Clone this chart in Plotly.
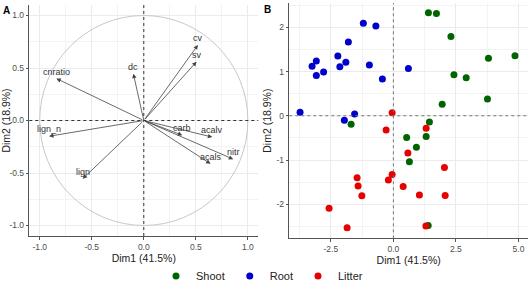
import plotly.graph_objects as go

# ---- Panel A: variable loadings ----
var_names = ["cv", "sv", "dc", "cnratio", "lign_n", "carb", "acalv", "nitr", "acals", "lign"]
var_dim1 = [0.52, 0.507, -0.10, -0.84, -0.91, 0.37, 0.658, 0.859, 0.641, -0.587]
var_dim2 = [0.72, 0.56, 0.445, 0.40, -0.15, -0.14, -0.158, -0.368, -0.412, -0.555]

# ---- Panel B: individuals ----
groups = ["Shoot", "Root", "Litter"]
group_colors = ["#006400", "#0000CD", "#E60000"]
shoot_dim1 = [1.40, 1.72, 2.30, 3.80, 4.86, 2.42, 2.91, 3.76, 1.95, 1.44, -1.69, 0.53, 1.31, 0.92, 0.64, 1.39]
shoot_dim2 = [2.33, 2.31, 1.79, 1.30, 1.36, 0.93, 0.86, 0.38, 0.26, -0.14, -0.19, -0.49, -0.47, -0.71, -1.04, -2.48]
root_dim1 = [-3.73, -3.25, -3.08, -3.08, -2.79, -2.22, -2.14, -1.90, -1.80, -1.20, -0.70, -0.96, -0.44, 0.60, -1.96, -1.55]
root_dim2 = [0.08, 1.12, 1.24, 0.91, 0.99, 1.35, 1.11, 1.21, 1.67, 2.09, 2.03, 1.15, 0.83, 1.07, -0.10, 0.04]
litter_dim1 = [-0.05, -0.29, 1.31, 0.58, 2.04, -1.45, -0.05, -0.20, -1.41, 0.39, -1.26, 1.04, 2.07, -2.57, -1.85, 1.30]
litter_dim2 = [0.07, -0.32, -0.28, -0.84, -1.17, -1.40, -1.33, -1.45, -1.59, -1.60, -1.81, -1.79, -1.80, -2.09, -2.53, -2.49]

x_title = "Dim1 (41.5%)"
y_title = "Dim2 (18.9%)"

W, H = 529, 283
FONT = "Liberation Sans, Arial, sans-serif"

def px_x(p):
    return p / W

def px_y(p):
    return 1 - p / H

fig = go.Figure()

# Panel B points
for name, col, xs, ys in zip(groups, group_colors,
                             [shoot_dim1, root_dim1, litter_dim1],
                             [shoot_dim2, root_dim2, litter_dim2]):
    fig.add_trace(go.Scatter(x=xs, y=ys, mode="markers", name=name,
                             marker=dict(color=col, size=7, line=dict(width=0)),
                             xaxis="x2", yaxis="y2"))

# invisible trace to anchor axis A
fig.add_trace(go.Scatter(x=var_dim1, y=var_dim2, mode="markers",
                         marker=dict(size=1, opacity=0), showlegend=False,
                         hoverinfo="skip", xaxis="x", yaxis="y"))

annotations = []
for n, x, y in zip(var_names, var_dim1, var_dim2):
    annotations.append(dict(x=x, y=y, ax=0, ay=0, xref="x", yref="y", axref="x", ayref="y",
                            text="", showarrow=True, arrowhead=2, arrowsize=1.1,
                            arrowwidth=0.8, arrowcolor="#444444"))
for n, x, y in zip(var_names, var_dim1, var_dim2):
    annotations.append(dict(x=x, y=y, xref="x", yref="y", text=n, showarrow=False,
                            yshift=7, font=dict(family=FONT, size=9, color="#333333")))

annotations.append(dict(x=px_x(1), y=px_y(3), xref="paper", yref="paper", text="<b>A</b>",
                        showarrow=False, xanchor="left", yanchor="top",
                        font=dict(family=FONT, size=10, color="black")))
annotations.append(dict(x=px_x(262), y=px_y(2), xref="paper", yref="paper", text="<b>B</b>",
                        showarrow=False, xanchor="left", yanchor="top",
                        font=dict(family=FONT, size=10, color="black")))

shapes = [
    dict(type="circle", xref="x", yref="y", x0=-1, y0=-1, x1=1, y1=1,
         line=dict(color="#c8c8c8", width=1)),
    dict(type="line", xref="x", yref="y domain", x0=0, x1=0, y0=0, y1=1,
         line=dict(color="#333333", width=1, dash="3px,3px")),
    dict(type="line", xref="x domain", yref="y", x0=0, x1=1, y0=0, y1=0,
         line=dict(color="#333333", width=1, dash="3px,3px")),
    dict(type="line", xref="x2", yref="y2 domain", x0=0, x1=0, y0=0, y1=1,
         line=dict(color="#777777", width=1, dash="3px,3px")),
    dict(type="line", xref="x2 domain", yref="y2", x0=0, x1=1, y0=0, y1=0,
         line=dict(color="#777777", width=1, dash="3px,3px")),
]

axis_common = dict(showline=True, linecolor="#555555", linewidth=1, mirror=False,
                   ticks="outside", ticklen=2.5, tickcolor="#555555", tickwidth=1,
                   showgrid=True, gridcolor="#ebebeb", gridwidth=1, zeroline=False,
                   automargin=False,
                   tickfont=dict(family=FONT, size=8.5, color="#4d4d4d"),
                   title_font=dict(family=FONT, size=10.5, color="#222222"))

fig.update_layout(
    width=W, height=H, margin=dict(l=0, r=0, t=0, b=0, autoexpand=False),
    paper_bgcolor="white", plot_bgcolor="white",
    font=dict(family=FONT),
    xaxis=dict(axis_common, domain=[px_x(29.3), px_x(258.3)], range=[-1.1, 1.1],
               tickvals=[-1.0, -0.5, 0.0, 0.5, 1.0], ticktext=["-1.0", "-0.5", "0.0", "0.5", "1.0"],
               minor=dict(dtick=0.25, tick0=0, showgrid=True, gridcolor="#f3f3f3", ticks=""),
               title=dict(text=x_title, standoff=0), anchor="y"),
    yaxis=dict(axis_common, domain=[px_y(236), px_y(5)], range=[-1.1, 1.1],
               tickvals=[-1.0, -0.5, 0.0, 0.5, 1.0], ticktext=["-1.0", "-0.5", "0.0", "0.5", "1.0"],
               minor=dict(dtick=0.25, tick0=0, showgrid=True, gridcolor="#f3f3f3", ticks=""),
               title=dict(text=y_title, standoff=0), anchor="x"),
    xaxis2=dict(axis_common, domain=[px_x(289.3), px_x(528)], range=[-4.16, 5.38],
                tickvals=[-2.5, 0.0, 2.5, 5.0], ticktext=["-2.5", "0.0", "2.5", "5.0"],
                minor=dict(dtick=1.25, tick0=0, showgrid=True, gridcolor="#f3f3f3", ticks=""),
                title=dict(text=x_title, standoff=0), anchor="y2"),
    yaxis2=dict(axis_common, domain=[px_y(238.3), px_y(3)], range=[-2.77, 2.55],
                tickvals=[-2, -1, 0, 1, 2], ticktext=["-2", "-1", "0", "1", "2"],
                minor=dict(dtick=0.5, tick0=0, showgrid=True, gridcolor="#f3f3f3", ticks=""),
                title=dict(text=y_title, standoff=2), anchor="x2"),
    legend=dict(orientation="h", x=px_x(262), xanchor="center", y=px_y(276), yanchor="middle",
                font=dict(family=FONT, size=11, color="#222222"), itemsizing="trace",
                bgcolor="rgba(0,0,0,0)", tracegroupgap=0, itemwidth=30),
    annotations=annotations, shapes=shapes, showlegend=True,
)

fig.write_html("out.html")
